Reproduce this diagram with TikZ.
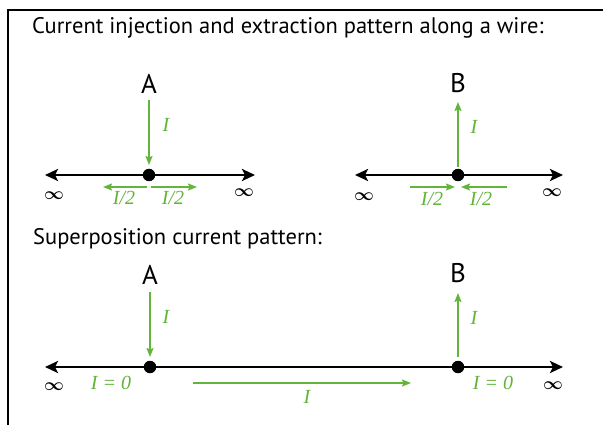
\documentclass[tikz,border=0pt]{standalone}
\usepackage{fontspec}
\setmainfont{PT Sans}
\newfontfamily\lblfont{Liberation Serif}
\usetikzlibrary{arrows.meta}
\definecolor{grn}{RGB}{98,180,58}
\tikzset{
  wire/.style={line width=2.8pt, {Stealth[length=13pt,width=12pt,inset=3pt]}-{Stealth[length=13pt,width=12pt,inset=3pt]}},
  cur/.style={grn, line width=1.4pt, -{Stealth[length=9pt,width=7pt,inset=1.5pt]}},
  dot/.style={circle, fill=black, inner sep=0pt, minimum size=12.5pt},
  ttl/.style={anchor=base west, font=\fontsize{22.5}{24}\selectfont, inner sep=0pt},
  ptlabel/.style={anchor=base, font=\fontsize{27}{29}\selectfont, inner sep=0pt},
  lbl/.style={grn, font=\lblfont\itshape\fontsize{20}{22}\selectfont, inner sep=0pt},
  inf/.style={font=\fontsize{19}{21}\selectfont\boldmath, inner sep=0pt},
  frame/.style={line width=2pt}
}
\begin{document}
\begin{tikzpicture}[x=1pt,y=-1pt]
\useasboundingbox (0,0) rectangle (603,425);
% frame
\coordinate (f1) at (8,430);
\coordinate (f2) at (8,10);
\coordinate (f3) at (610,10);
\draw[frame] (f1) -- (f2) -- (f3);

% titles
\node[ttl] (t1) at (32,34) {Current injection and extraction pattern along a wire:};
\node[ttl] (t2) at (33,244) {Superposition current pattern:};

% ---------- top left: A ----------
\coordinate (w1l) at (45,175);
\coordinate (w1r) at (255,175);
\draw[wire] (w1l) -- (w1r);
\node[dot] (dA1) at (149,175) {};
\node[ptlabel] (A1) at (149,94) {A};
\coordinate (a1s) at (149,100);
\coordinate (a1e) at (149,165);
\draw[cur] (a1s) -- (a1e);
\node[lbl] (iA1) at (166,125) {I};
\coordinate (h1a) at (147,187);
\coordinate (h1b) at (103,187);
\coordinate (h1c) at (151,187);
\coordinate (h1d) at (197,187);
\draw[cur] (h1a) -- (h1b);
\draw[cur] (h1c) -- (h1d);
\node[lbl] (hA1) at (124,198) {I/2};
\node[lbl] (hA2) at (173,198) {I/2};
\node[inf] (inf1) at (54,196) {$\infty$};
\node[inf] (inf2) at (244,193) {$\infty$};

% ---------- top right: B ----------
\coordinate (w2l) at (355,175);
\coordinate (w2r) at (563,175);
\draw[wire] (w2l) -- (w2r);
\node[dot] (dB1) at (458,175) {};
\node[ptlabel] (B1) at (458,93) {B};
\coordinate (b1s) at (458,167);
\coordinate (b1e) at (458,102);
\draw[cur] (b1s) -- (b1e);
\node[lbl] (iB1) at (474,127) {I};
\coordinate (h2a) at (410,187);
\coordinate (h2b) at (455,187);
\coordinate (h2c) at (507,187);
\coordinate (h2d) at (461,187);
\draw[cur] (h2a) -- (h2b);
\draw[cur] (h2c) -- (h2d);
\node[lbl] (hB1) at (432,199) {I/2};
\node[lbl] (hB2) at (481,199) {I/2};
\node[inf] (inf3) at (364,197) {$\infty$};
\node[inf] (inf4) at (552,193) {$\infty$};

% ---------- bottom: superposition ----------
\coordinate (w3l) at (45,367);
\coordinate (w3r) at (563,367);
\draw[wire] (w3l) -- (w3r);
\node[dot] (dA2) at (150,367) {};
\node[dot] (dB2) at (458,367) {};
\node[ptlabel] (A2) at (150,284) {A};
\node[ptlabel] (B2) at (458,283) {B};
\coordinate (a2s) at (150,292);
\coordinate (a2e) at (150,357);
\draw[cur] (a2s) -- (a2e);
\node[lbl] (iA2) at (166,317) {I};
\coordinate (b2s) at (458,357);
\coordinate (b2e) at (458,293);
\draw[cur] (b2s) -- (b2e);
\node[lbl] (iB2) at (474,318) {I};
\coordinate (ls) at (193,383);
\coordinate (le) at (411,383);
\draw[cur] (ls) -- (le);
\node[lbl] (iL) at (307,397) {I};
\node[lbl] (z1) at (111,383) {I = 0};
\node[lbl] (z2) at (493,383) {I = 0};
\node[inf] (inf5) at (54,387) {$\infty$};
\node[inf] (inf6) at (553,386) {$\infty$};
\end{tikzpicture}
\end{document}
